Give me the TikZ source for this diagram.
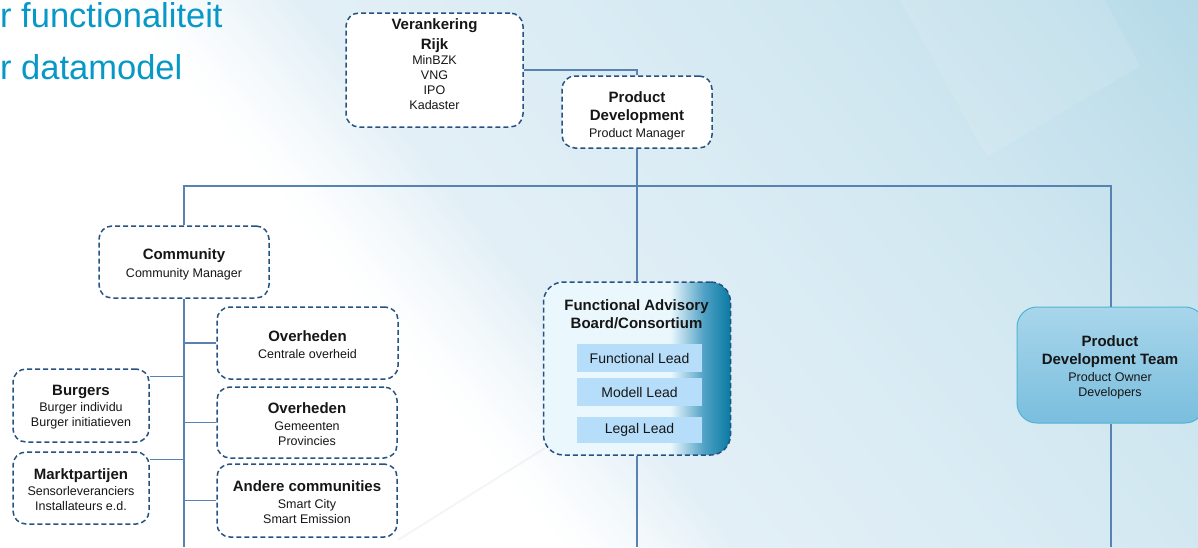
\documentclass[tikz,border=0pt]{standalone}
\usepackage{fontspec}
\setmainfont{Liberation Sans}
\usetikzlibrary{calc}
\definecolor{bgA}{RGB}{238,245,249}
\definecolor{bgB}{RGB}{226,239,246}
\definecolor{bgC}{RGB}{212,233,242}
\definecolor{bgD}{RGB}{180,217,231}
\definecolor{tealc}{RGB}{8,152,200}
\definecolor{dashc}{RGB}{38,82,130}
\definecolor{connc}{RGB}{88,130,178}
\definecolor{fabL}{RGB}{234,247,253}
\definecolor{fabM}{RGB}{78,160,196}
\definecolor{fabR}{RGB}{10,122,162}
\definecolor{leadc}{RGB}{182,221,250}
\definecolor{pdtT}{RGB}{168,214,235}
\definecolor{pdtB}{RGB}{122,190,222}
\definecolor{pdtD}{RGB}{82,178,214}
\definecolor{txtc}{RGB}{22,22,22}
\pgfdeclarehorizontalshading{fabsh}{100bp}{color(0bp)=(fabL); color(59bp)=(fabL); color(68bp)=(fabM); color(75bp)=(fabR); color(100bp)=(fabR)}
\newcommand\ttl[1]{{\fontsize{15}{18}\bfseries\selectfont #1}}
\tikzset{
  dbox/.style={draw=dashc, line width=1.5pt, dash pattern=on 5pt off 3pt, rounded corners=13pt,
    fill=white, inner sep=0pt},
  btxt/.style={inner sep=0pt, align=center, text=txtc, font=\fontsize{12.5}{15}\selectfont},
  conn/.style={draw=connc, line width=1.3pt},
  lead/.style={fill=leadc, inner sep=0pt, minimum width=125pt, text=txtc, font=\fontsize{14}{16}\selectfont},
  toptxt/.style={anchor=base west, inner sep=0pt, text=tealc, font=\fontsize{34.5}{52}\selectfont}
}
\begin{document}
\begin{tikzpicture}[x=1pt, y=-1pt]
\useasboundingbox (0,0) rectangle (1198,547);
\clip (0,0) rectangle (1198,547);
\fill[white] (0,0) rectangle (1198,547);
% background gradient in bands
\foreach \a/\b/\ca/\cb in {90/230/white/bgB, 230/550/bgB/bgC, 550/940/bgC/bgD}{
  \pgfmathtruncatemacro\n{(\b-\a)/5-1}
  \foreach \i in {0,...,\n}{
    \pgfmathsetmacro\pp{\a+5*\i}
    \pgfmathsetmacro\pq{\pp+6}
    \pgfmathsetmacro\pc{100*(\i/(\n+1))^1.3}
    \pgfmathsetmacro\xa{\pp*0.779-1500*0.627}
    \pgfmathsetmacro\ya{-\pp*0.627-1500*0.779}
    \pgfmathsetmacro\xb{\pp*0.779+1500*0.627}
    \pgfmathsetmacro\yb{-\pp*0.627+1500*0.779}
    \pgfmathsetmacro\xc{\pq*0.779+1500*0.627}
    \pgfmathsetmacro\yc{-\pq*0.627+1500*0.779}
    \pgfmathsetmacro\xd{\pq*0.779-1500*0.627}
    \pgfmathsetmacro\yd{-\pq*0.627-1500*0.779}
    \fill[\cb!\pc!\ca] (\xa,\ya) -- (\xb,\yb) -- (\xc,\yc) -- (\xd,\yd) -- cycle;
  }
}
\fill[bgD] (940*0.779-1500*0.627, -940*0.627-1500*0.779) -- (940*0.779+1500*0.627, -940*0.627+1500*0.779)
  -- (1600*0.779+1500*0.627, -1600*0.627+1500*0.779) -- (1600*0.779-1500*0.627, -1600*0.627-1500*0.779) -- cycle;
\fill[white, opacity=0.1] (900,0) -- (987,157) -- (1140,66) -- (1105,0) -- cycle;
\draw[black, opacity=0.04, line width=2pt] (398,540) -- (545,448);

\node[toptxt] (t1) at (0,27) {r functionaliteit};
\node[toptxt] (t2) at (0,79) {r datamodel};

% boxes
\node[dbox, minimum width=177pt, minimum height=114pt] (ver) at (434.5,70) {};
\node[dbox, minimum width=150pt, minimum height=72pt] (pd) at (637,112) {};
\node[dbox, minimum width=170pt, minimum height=72pt] (com) at (184,262) {};
\node[dbox, minimum width=181pt, minimum height=72pt] (ov1) at (307.5,343) {};
\node[dbox, minimum width=180pt, minimum height=71pt] (ov2) at (307,422.5) {};
\node[dbox, minimum width=180pt, minimum height=73pt] (and) at (307,500.5) {};
\node[dbox, minimum width=136pt, minimum height=73pt] (burg) at (81,405.5) {};
\node[dbox, minimum width=136pt, minimum height=72pt] (markt) at (81,488) {};
\node[dbox, shade, shading=fabsh, rounded corners=20pt, minimum width=187pt, minimum height=173pt] (fab) at (637,368.5) {};
\node[draw=pdtD, line width=1pt, rounded corners=20pt, top color=pdtT, bottom color=pdtB,
  inner sep=0pt, minimum width=188pt, minimum height=116pt] (pdt) at (1111,365) {};

% texts
\node[btxt] (verT) at ($(ver)+(0,-6)$)
  {\ttl{Verankering}\\[5pt]\ttl{Rijk}\\MinBZK\\VNG\\IPO\\Kadaster};
\node[btxt] (pdT) at ($(pd)+(0,4)$)
  {\ttl{Product}\\[3pt]\ttl{Development}\\[2pt]Product Manager};
\node[btxt] (comT) at ($(com)+(0,2)$)
  {\ttl{Community}\\[3pt]Community Manager};
\node[btxt] (ov1T) at ($(ov1)+(0,2)$)
  {\ttl{Overheden}\\[2pt]Centrale overheid};
\node[btxt] (ov2T) at ($(ov2)+(0,2)$)
  {\ttl{Overheden}\\[2pt]Gemeenten\\Provincies};
\node[btxt] (andT) at ($(and)+(0,2)$)
  {\ttl{Andere communities}\\[2pt]Smart City\\Smart Emission};
\node[btxt] (burgT) at ($(burg)+(0,2)$)
  {\ttl{Burgers}\\[1pt]Burger individu\\Burger initiatieven};
\node[btxt] (marktT) at ($(markt)+(0,1.5)$)
  {\ttl{Marktpartijen}\\[1pt]Sensorleveranciers\\Installateurs e.d.};
\node[btxt] (fabT) at (636.5,314)
  {\ttl{Functional Advisory}\\[3pt]\ttl{Board/Consortium}};
\node[lead, minimum height=28pt] (fl) at (639.5,358) {Functional Lead};
\node[lead, minimum height=28pt] (ml) at (639.5,392) {Modell Lead};
\node[lead, minimum height=26pt] (ll) at (639.5,430) {Legal Lead};
\node[btxt] (pdtT) at ($(pdt)+(-1,2)$)
  {\ttl{Product}\\[3pt]\ttl{Development Team}\\[2pt]Product Owner\\Developers};

\coordinate (busL) at (184,186);
\coordinate (busM) at (637,186);
\coordinate (busR) at (1111,186);
\coordinate (comEnd) at (184,547);
\coordinate (fabEnd) at (637,547);
\coordinate (pdtEnd) at (1111,547);
\coordinate (bj) at ([yshift=-8pt]burg.north east);
\coordinate (mj) at ([yshift=-8pt]markt.north east);

\draw[conn] (ver.east) -| (pd.north);
\draw[conn] (pd.south) -- (busM);
\draw[conn] (com.north) -- (busL) -- (busR) -- (pdt.north);
\draw[conn] (busM) -- (fab.north);
\draw[conn] (com.south) -- (comEnd);
\draw[conn] (fab.south) -- (fabEnd);
\draw[conn] (pdt.south) -- (pdtEnd);
\draw[conn] (ov1.west) -- (ov1.west -| com.south);
\draw[conn] (ov2.west) -- (ov2.west -| com.south);
\draw[conn] (and.west) -- (and.west -| com.south);
\draw[conn] (bj) -- (bj -| com.south);
\draw[conn] (mj) -- (mj -| com.south);
\end{tikzpicture}
\end{document}
